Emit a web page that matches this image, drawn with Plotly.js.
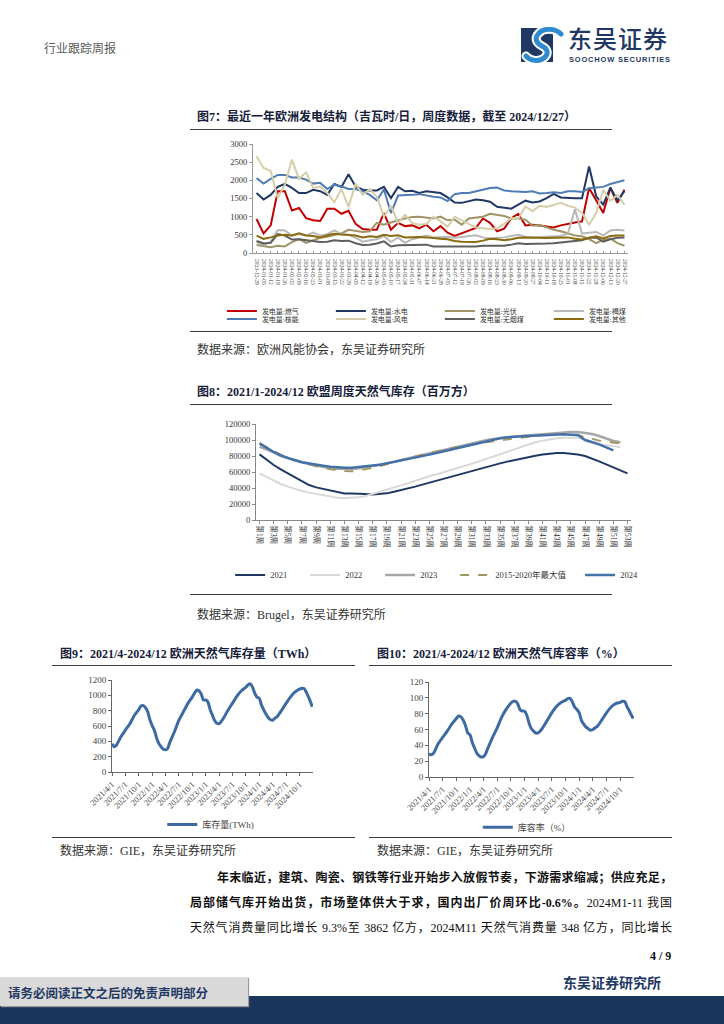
<!DOCTYPE html>
<html><head><meta charset="utf-8">
<script src="https://cdn.plot.ly/plotly-3.0.1.min.js"></script>
<style>
body{margin:0;background:#fff;}
#page{position:relative;width:724px;height:1024px;overflow:hidden;background:#fff;font-family:"Liberation Serif","Noto Sans CJK SC",serif;}
.abs{position:absolute;white-space:nowrap;}
.title{position:absolute;font-weight:bold;font-size:12px;line-height:16px;color:#16203a;white-space:nowrap;}
.src{position:absolute;font-size:12px;line-height:16px;color:#333;white-space:nowrap;}
.rule{position:absolute;height:0;border-top:1.5px solid #3a3a3a;}
.chart{position:absolute;}
.body{position:absolute;font-size:12px;line-height:16px;white-space:nowrap;text-align:justify;text-align-last:justify;color:#111;}
</style></head>
<body><div id="page">

<div class="abs" style="left:44px;top:39px;font-size:12px;color:#5a5a5a;font-family:'Noto Sans CJK SC';">行业跟踪周报</div>
<svg class="abs" style="left:520px;top:27px;" width="48" height="36" viewBox="0 0 48 36">
  <rect x="1" y="1" width="32" height="34" fill="#1F3864"/>
  <path d="M41 7 C35 1 24 1 19 6 C14 11 16 16 22 19 C28 22 29 27 24 31 C19 35 10 34 6 29" stroke="#fff" stroke-width="9" fill="none" stroke-linecap="round"/>
  <path d="M41 7 C35 1 24 1 19 6 C14 11 16 16 22 19 C28 22 29 27 24 31 C19 35 10 34 6 29" stroke="#2F8AD0" stroke-width="5" fill="none" stroke-linecap="round"/>
</svg>
<div class="abs" style="left:568px;top:26px;font-size:24px;line-height:24px;color:#1F3864;font-family:'Noto Sans CJK SC';font-weight:500;letter-spacing:1px;">东吴证券</div>
<div class="abs" style="left:569px;top:56px;font-size:7.5px;line-height:8px;color:#1F3864;font-family:'Liberation Sans';font-weight:bold;letter-spacing:0.8px;">SOOCHOW SECURITIES</div>

<div class="title" style="left:197px;top:109px;">图7：最近一年欧洲发电结构（吉瓦时/日，周度数据，截至 2024/12/27）</div>
<div class="rule" style="left:190px;top:129px;width:422px;"></div>
<div id="fig7" class="chart" style="left:190px;top:135px;"></div>
<div class="rule" style="left:190px;top:331px;width:422px;"></div>
<div class="src" style="left:197px;top:342px;">数据来源：欧洲风能协会，东吴证券研究所</div>

<div class="title" style="left:197px;top:384px;">图8：2021/1-2024/12 欧盟周度天然气库存（百万方）</div>
<div class="rule" style="left:190px;top:404px;width:422px;"></div>
<div id="fig8" class="chart" style="left:200px;top:410px;"></div>
<div class="rule" style="left:190px;top:594px;width:422px;"></div>
<div class="src" style="left:197px;top:607px;">数据来源：Brugel，东吴证券研究所</div>

<div class="title" style="left:60px;top:646px;">图9：2021/4-2024/12 欧洲天然气库存量（TWh）</div>
<div class="rule" style="left:52px;top:665px;width:303px;"></div>
<div id="fig9" class="chart" style="left:40px;top:670px;"></div>
<div class="rule" style="left:52px;top:837px;width:303px;"></div>
<div class="src" style="left:60px;top:843px;">数据来源：GIE，东吴证券研究所</div>

<div class="title" style="left:377px;top:646px;">图10：2021/4-2024/12 欧洲天然气库容率（%）</div>
<div class="rule" style="left:369px;top:665px;width:303px;"></div>
<div id="fig10" class="chart" style="left:365px;top:670px;"></div>
<div class="rule" style="left:369px;top:837px;width:303px;"></div>
<div class="src" style="left:377px;top:843px;">数据来源：GIE，东吴证券研究所</div>

<div class="body" style="left:217px;top:870px;width:455px;font-weight:bold;">年末临近，建筑、陶瓷、钢铁等行业开始步入放假节奏，下游需求缩减；供应充足，</div>
<div class="body" style="left:190px;top:895px;width:482px;"><b>局部储气库开始出货，市场整体供大于求，国内出厂价周环比-0.6%。</b>2024M1-11 我国</div>
<div class="body" style="left:190px;top:920px;width:482px;">天然气消费量同比增长 9.3%至 3862 亿方，2024M11 天然气消费量 348 亿方，同比增长</div>

<div class="abs" style="left:650px;top:949px;font-size:12px;font-weight:bold;color:#111;">4 / 9</div>
<div class="abs" style="left:563px;top:972px;font-size:14px;font-weight:bold;color:#1F3864;font-family:'Noto Sans CJK SC';">东吴证券研究所</div>
<div class="abs" style="left:0;top:996px;width:724px;height:28px;background:#1B365D;"></div>
<div class="abs" style="left:0;top:977px;width:248px;height:29px;background:#D9D9D9;box-shadow:1px 1px 1px #999;"></div>
<div class="abs" style="left:8px;top:983px;font-size:12.5px;font-weight:bold;color:#1F3864;font-family:'Noto Sans CJK SC';">请务必阅读正文之后的免责声明部分</div>

</div>
<script>
// ---------- Figure 7 data ----------
var genDates = ['2023-12-29','2024-01-05','2024-01-12','2024-01-19','2024-01-26','2024-02-02','2024-02-09','2024-02-16','2024-02-23','2024-03-01','2024-03-08','2024-03-15','2024-03-22','2024-03-29','2024-04-05','2024-04-12','2024-04-19','2024-04-26','2024-05-03','2024-05-10','2024-05-17','2024-05-24','2024-05-31','2024-06-07','2024-06-14','2024-06-21','2024-06-28','2024-07-05','2024-07-12','2024-07-19','2024-07-26','2024-08-02','2024-08-09','2024-08-16','2024-08-23','2024-08-30','2024-09-06','2024-09-13','2024-09-20','2024-09-27','2024-10-04','2024-10-11','2024-10-18','2024-10-25','2024-11-01','2024-11-08','2024-11-15','2024-11-22','2024-11-29','2024-12-06','2024-12-13','2024-12-20','2024-12-27'];
var genGas = [935,540,760,1700,1700,1170,1240,960,900,880,1220,1220,1080,1160,800,660,640,640,1100,640,830,740,760,680,780,600,740,560,470,540,600,690,950,830,600,670,960,1080,760,780,760,740,700,760,810,840,870,1790,1450,1100,1790,1380,1740];
var genHydro = [1650,1470,1600,1820,1900,1790,1650,1650,1740,1700,1600,1900,1820,2170,1830,1740,1720,1720,1820,1510,1820,1700,1710,1650,1700,1680,1650,1530,1390,1380,1420,1470,1450,1410,1270,1250,1220,1330,1440,1390,1420,1510,1630,1530,1510,1510,1510,2380,1560,1330,1800,1450,1700];
var genSolar = [220,190,160,200,180,300,380,280,350,420,450,500,540,640,620,580,600,830,780,850,900,950,990,1000,980,950,1000,900,920,780,950,970,1000,1080,1050,1020,950,950,920,750,770,700,640,600,540,480,460,380,270,360,400,270,200];
var genLignite = [300,230,300,630,620,480,520,480,560,480,520,620,520,500,420,310,350,380,470,300,420,280,380,430,480,430,450,450,420,440,470,490,430,400,420,430,470,500,450,430,440,450,470,470,530,1200,540,560,580,480,620,640,620];
var genNuclear = [2060,1910,2040,2150,2150,2080,2080,2020,1910,1930,1760,1880,1830,1760,1760,1700,1600,1450,1750,1100,1580,1580,1600,1620,1580,1550,1530,1430,1620,1650,1650,1700,1760,1790,1800,1720,1700,1690,1680,1700,1640,1650,1670,1650,1700,1700,1680,1780,1800,1820,1900,1950,2000];
var genWind = [2660,2340,2260,1510,1880,2570,2040,2220,1790,1830,1650,1400,1760,1270,1910,1600,1760,1550,1000,1300,830,1050,820,780,800,1000,870,730,1000,900,800,700,680,660,680,800,960,950,1280,1150,1300,1270,1320,1380,1300,1250,1100,780,1100,1740,1440,1600,1330];
var genAnthracite = [330,260,280,520,480,370,380,350,340,300,310,350,330,340,270,220,230,260,320,180,210,210,220,210,230,180,180,180,170,170,170,180,200,200,190,200,230,270,250,260,250,260,270,290,300,330,350,420,430,310,380,420,430];
var genOther = [480,390,430,480,500,480,540,480,470,430,490,530,510,500,480,430,460,440,500,470,490,430,440,440,430,400,390,380,330,310,310,300,340,390,380,350,380,420,430,420,410,410,420,430,430,390,370,420,460,400,470,480,480];
var genNames = ['发电量:燃气','发电量:水电','发电量:光伏','发电量:褐煤','发电量:核能','发电量:风电','发电量:无烟煤','发电量:其他'];

// ---------- Figure 8 data ----------
var weekLabels = ['第1周','第2周','第3周','第4周','第5周','第6周','第7周','第8周','第9周','第10周','第11周','第12周','第13周','第14周','第15周','第16周','第17周','第18周','第19周','第20周','第21周','第22周','第23周','第24周','第25周','第26周','第27周','第28周','第29周','第30周','第31周','第32周','第33周','第34周','第35周','第36周','第37周','第38周','第39周','第40周','第41周','第42周','第43周','第44周','第45周','第46周','第47周','第48周','第49周','第50周','第51周','第52周','第53周'];
var gas2021 = [82000,75000,68700,63300,58300,54000,49000,43700,40800,38700,36700,34600,33000,33000,33000,32500,32000,32500,33300,35400,37500,39000,41700,44200,46700,49200,51700,54200,56200,58300,60800,63300,65800,68300,70800,73000,75000,76700,78300,80400,82000,83300,83700,83700,83300,82000,80000,77100,73300,69600,65800,61700,58300];
var gas2022 = [58300,54000,49000,45000,41700,38700,36200,34200,32500,30400,28700,27900,27500,27500,28300,30000,32500,35000,37500,40400,43300,46200,49200,52100,54600,57100,59600,62100,64600,67500,70400,73300,76300,79200,82100,85400,88300,91700,94600,97100,99200,100800,102100,102900,103300,102900,100800,97900,95400,93300,92100,91300];
var gas2023 = [91700,88300,84600,80000,77100,74600,72100,70000,67900,66200,64600,64200,63800,63800,64600,65800,67500,69200,70800,72900,75000,77100,79200,81300,83300,85400,87500,89600,91300,93300,95400,97500,99600,101300,102500,103300,104200,105000,105800,106700,107500,108300,109200,109600,110000,110000,109200,107500,105000,101700,98800,97100];
var gasMax = [95800,90800,85800,81700,77900,75000,72100,69600,67100,65000,63300,62100,61300,60800,61700,63300,65400,67500,70000,72500,75000,77500,79600,81700,83800,85800,87900,89600,91300,92900,94600,95800,97100,98300,99600,100800,102100,103300,104600,105400,106300,107100,107500,107500,107100,105800,103800,101300,99200,97500,96700,95800];
var gas2024 = [95800,90400,85000,80800,77500,74600,72100,70400,69200,67900,66700,65800,65400,65400,66300,67500,67900,69200,70800,72500,74200,76300,77900,79600,81700,83800,85800,87900,90000,92100,94200,95800,97900,100400,102100,103300,104200,104600,105000,105400,106300,106700,107100,107100,106700,106300,100000,97500,94600,90800,87100];
var gasNames = ['2021','2022','2023','2015-2020年最大值','2024'];

// ---------- Figures 9 & 10 data ----------
var storageDates = ['2021-04-01','2021-04-15','2021-05-01','2021-06-01','2021-07-01','2021-08-01','2021-09-01','2021-10-01','2021-10-15','2021-11-01','2021-11-15','2021-12-01','2021-12-15',
 '2022-01-01','2022-01-15','2022-02-01','2022-02-15','2022-03-01','2022-03-15','2022-04-01','2022-04-15','2022-05-01','2022-06-01','2022-07-01','2022-08-01','2022-09-01','2022-10-01','2022-10-15','2022-11-01','2022-11-15','2022-12-01','2022-12-15',
 '2023-01-01','2023-01-15','2023-02-01','2023-02-15','2023-03-01','2023-03-15','2023-04-01','2023-04-15','2023-05-01','2023-06-01','2023-07-01','2023-08-01','2023-09-01','2023-10-01','2023-10-15','2023-11-01','2023-11-15','2023-12-01','2023-12-15',
 '2024-01-01','2024-01-15','2024-02-01','2024-02-15','2024-03-01','2024-03-15','2024-04-01','2024-04-15','2024-05-01','2024-06-01','2024-07-01','2024-08-01','2024-09-01','2024-10-01','2024-10-15','2024-11-01','2024-11-15','2024-12-01','2024-12-15','2024-12-27'];
var storageTWh = [370,330,350,460,545,630,740,815,860,865,840,785,685,
 600,545,435,370,330,300,290,305,390,525,675,785,895,980,1025,1070,1060,1015,940,
 940,915,805,740,675,640,630,655,700,805,895,990,1060,1105,1135,1150,1110,1025,980,
 960,875,805,755,710,685,675,700,720,805,895,980,1045,1080,1090,1090,1045,980,915,850];
var storagePct = [29.5,28,30,42,50,58,67,74,77,76,72,65,56,
 53,44,36,30,27,25.3,26,29.5,37,50.5,62,76,86,93.5,95.6,95.6,92.6,85,83.4,
 83,78,67,61,58,55.6,55.6,58,62,71.6,81,89,94,97,99,99.4,95,88.4,85.5,
 81,71.6,66.5,63,61,59,60,62,64,72.4,81,88.4,92.6,94.3,95.6,95,89,83.4,78,74];
var quarterTicks = ['2021-04-01','2021-07-01','2021-10-01','2022-01-01','2022-04-01','2022-07-01','2022-10-01','2023-01-01','2023-04-01','2023-07-01','2023-10-01','2024-01-01','2024-04-01','2024-07-01','2024-10-01'];
var quarterLabels = ['2021/4/1','2021/7/1','2021/10/1','2022/1/1','2022/4/1','2022/7/1','2022/10/1','2023/1/1','2023/4/1','2023/7/1','2023/10/1','2024/1/1','2024/4/1','2024/7/1','2024/10/1'];

var FONT = 'Liberation Serif, Noto Sans CJK SC, serif';
var cfg = {staticPlot:true, displayModeBar:false};

// ---------- Figure 7 ----------
(function(){
  var series = [genGas, genHydro, genSolar, genLignite, genNuclear, genWind, genAnthracite, genOther];
  var colors = ['#C00000','#1F3864','#A09466','#B8B8B8','#4F7CB3','#D6CEA8','#5E5E5E','#8B6A10'];
  var traces = series.map(function(s,i){
    return {type:'scatter', mode:'lines', x:genDates, y:s, name:genNames[i],
      line:{color:colors[i], width:2}, legend: i<4 ? 'legend' : 'legend2', hoverinfo:'skip'};
  });
  var legBase = {orientation:'h', xanchor:'left', yanchor:'top', x:-0.083, entrywidth:64, entrywidthmode:'pixels',
     font:{family:FONT, size:7, color:'#333'}, bgcolor:'rgba(0,0,0,0)', borderwidth:0};
  var layout = {
    width:450, height:195, margin:{l:63,r:12,t:9,b:77,autoexpand:false},
    paper_bgcolor:'rgba(0,0,0,0)', plot_bgcolor:'rgba(0,0,0,0)',
    font:{family:FONT, color:'#333'}, showlegend:true,
    xaxis:{type:'category', tickmode:'array', tickvals:genDates, ticktext:genDates, tickangle:90,
      tickfont:{size:5.5, color:'#444'}, showline:true, linecolor:'#999', ticks:'inside', ticklen:2, tickcolor:'#999',
      showgrid:false, zeroline:false, range:[-0.5,52.5], ticklabelstandoff:4},
    yaxis:{range:[0,3000], tick0:0, dtick:500, tickformat:'d', showline:true, linecolor:'#999', ticks:'outside', ticklen:3,
      tickcolor:'#999', showgrid:false, zeroline:false, tickfont:{size:8.5, color:'#333'}},
    legend:Object.assign({}, legBase, {y:-0.399}),
    legend2:Object.assign({}, legBase, {y:-0.472})
  };
  Plotly.newPlot('fig7', traces, layout, cfg);
})();

// ---------- Figure 8 ----------
(function(){
  var series = [gas2021, gas2022, gas2023, gasMax, gas2024];
  var colors = ['#1F3864','#D9D9D9','#A6A6A6','#A39761','#4472A8'];
  var widths = [2,2,2.5,2,2.5];
  var lw = [30,30,30,80,30];
  var traces = series.map(function(s,i){
    return {type:'scatter', mode:'lines', x:weekLabels.slice(0,s.length), y:s, name:gasNames[i],
      line:{color:colors[i], width:widths[i], dash: i===3 ? 'dash' : 'solid'}, legendwidth:lw[i], hoverinfo:'skip'};
  });
  var oddWeeks = weekLabels.filter(function(w,i){return i%2===0;});
  var layout = {
    width:440, height:190, margin:{l:56,r:9,t:14,b:80,autoexpand:false},
    paper_bgcolor:'rgba(0,0,0,0)', plot_bgcolor:'rgba(0,0,0,0)',
    font:{family:FONT, color:'#333'}, showlegend:true,
    xaxis:{type:'category', categoryorder:'array', categoryarray:weekLabels, tickmode:'array', tickvals:oddWeeks, ticktext:oddWeeks,
      tickangle:90, tickfont:{size:7.5, color:'#333'}, showline:true, linecolor:'#888', ticks:'outside', ticklen:3, tickcolor:'#888',
      showgrid:false, zeroline:false, range:[-0.5,52.5]},
    yaxis:{range:[0,120000], tick0:0, dtick:20000, tickformat:'d', showline:true, linecolor:'#888', ticks:'outside', ticklen:3,
      tickcolor:'#888', showgrid:false, zeroline:false, tickfont:{size:8.5, color:'#333'}},
    legend:{orientation:'h', xanchor:'left', yanchor:'top', x:-0.069, y:-0.422, font:{family:FONT, size:8.5, color:'#333'},
      bgcolor:'rgba(0,0,0,0)'}
  };
  Plotly.newPlot('fig8', traces, layout, cfg);
})();

// ---------- Figures 9 & 10 ----------
function storageChart(id, y, name, yr, dt, m, legX, legY){
  var traces = [{type:'scatter', mode:'lines', x:storageDates, y:y, name:name,
    line:{color:'#3D6AA2', width:3, shape:'spline', smoothing:0.6}, hoverinfo:'skip', showlegend:true}];
  var layout = {
    width:320, height:165, margin:m,
    paper_bgcolor:'rgba(0,0,0,0)', plot_bgcolor:'rgba(0,0,0,0)',
    font:{family:FONT, color:'#444'}, showlegend:true,
    xaxis:{type:'date', range:['2021-04-01','2025-01-01'], tickmode:'array', tickvals:quarterTicks, ticktext:quarterLabels,
      tickangle:-45, tickfont:{size:8.5, color:'#444'}, showline:true, linecolor:'#666', ticks:'outside', ticklen:3, tickcolor:'#666',
      showgrid:false, zeroline:false},
    yaxis:{range:yr, tick0:0, dtick:dt, tickformat:'d', showline:true, linecolor:'#666', ticks:'outside', ticklen:3,
      tickcolor:'#666', showgrid:false, zeroline:false, tickfont:{size:9, color:'#444'}},
    legend:{orientation:'h', xanchor:'left', yanchor:'top', x:legX, y:legY, font:{family:FONT, size:9, color:'#444'},
      bgcolor:'rgba(0,0,0,0)'}
  };
  Plotly.newPlot(id, traces, layout, cfg);
}
storageChart('fig9', storageTWh, '库存量(TWh)', [0,1200], 200, {l:72,r:47,t:10,b:63.3,autoexpand:false}, 0.25, -0.412);
storageChart('fig10', storagePct, '库容率（%）', [0,120], 20, {l:64.3,r:51,t:11.7,b:58.3,autoexpand:false}, 0.238, -0.377);
</script>
</body></html>
